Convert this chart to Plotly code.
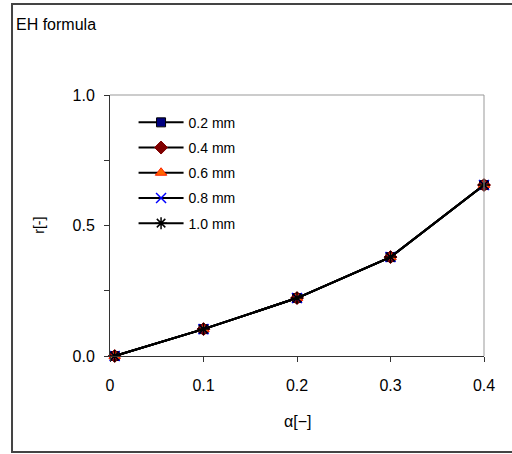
import plotly.graph_objects as go

# Void fraction alpha and resulting r for each pipe size (EH formula)
alpha = [0.005, 0.1, 0.2, 0.3, 0.4]
r_02mm = [0.0, 0.103, 0.222, 0.379, 0.655]
r_04mm = [0.0, 0.103, 0.222, 0.379, 0.655]
r_06mm = [0.0, 0.103, 0.222, 0.379, 0.655]
r_08mm = [0.0, 0.103, 0.222, 0.379, 0.655]
r_10mm = [0.0, 0.103, 0.222, 0.379, 0.655]

series_names = ["0.2 mm", "0.4 mm", "0.6 mm", "0.8 mm", "1.0 mm"]
series_values = [r_02mm, r_04mm, r_06mm, r_08mm, r_10mm]

marker_styles = [
    dict(symbol="square", color="#000080", size=9, line=dict(color="#000000", width=1)),
    dict(symbol="diamond", color="#800000", size=10, line=dict(color="#800000", width=1)),
    dict(symbol="triangle-up", color="#FF6600", size=10, line=dict(color="#FF2200", width=1)),
    dict(symbol="x-thin", color="#0000FF", size=10, line=dict(color="#0000FF", width=1.5)),
    dict(symbol="asterisk", color="#000000", size=10, line=dict(color="#000000", width=1.5)),
]

FONT = "Liberation Sans, Arial, sans-serif"

fig = go.Figure()
for i, (name, vals, mk) in enumerate(zip(series_names, series_values, marker_styles)):
    fig.add_trace(go.Scatter(
        x=alpha, y=vals, name=name, mode="lines+markers",
        line=dict(color="#000000", width=2),
        marker=mk, legendgroup=f"g{i}", cliponaxis=False,
    ))

fig.update_layout(
    width=512, height=454,
    margin=dict(l=110, r=28, t=95, b=98),
    paper_bgcolor="white", plot_bgcolor="white",
    font=dict(family=FONT, color="#000000"),
    showlegend=True,
    legend=dict(
        x=0.063, y=0.955, xanchor="left", yanchor="top",
        bgcolor="rgba(0,0,0,0)", font=dict(size=14, family=FONT),
        traceorder="grouped", tracegroupgap=4, itemwidth=45,
    ),
    xaxis=dict(
        range=[0, 0.4], tickvals=[0, 0.1, 0.2, 0.3, 0.4],
        ticktext=["0", "0.1", "0.2", "0.3", "0.4"],
        ticks="outside", ticklen=5, tickcolor="#333333",
        showline=True, linecolor="#333333", linewidth=1,
        showgrid=False, zeroline=False,
        tickfont=dict(size=16, family=FONT), ticklabelstandoff=10,
    ),
    yaxis=dict(
        range=[0, 1.0], tickvals=[0, 0.25, 0.5, 0.75, 1.0],
        ticktext=["0.0", "", "0.5", "", "1.0"],
        ticks="outside", ticklen=5, tickcolor="#333333",
        showline=True, linecolor="#333333", linewidth=1,
        showgrid=False, zeroline=False,
        tickfont=dict(size=16, family=FONT), ticklabelstandoff=6,
    ),
    shapes=[
        # grey top and right edges of the plotting area
        dict(type="line", xref="paper", yref="paper", x0=0, x1=1, y0=1, y1=1,
             line=dict(color="#999999", width=1)),
        dict(type="line", xref="paper", yref="paper", x0=1, x1=1, y0=0, y1=1,
             line=dict(color="#999999", width=1)),
        # outer chart frame
        dict(type="rect", xref="paper", yref="paper",
             x0=-0.262, x1=1.2, y0=-0.368, y1=1.349,
             line=dict(color="#444444", width=2), layer="below"),
    ],
    annotations=[
        dict(text="EH formula", xref="paper", yref="paper", x=-0.257, y=1.272,
             xanchor="left", yanchor="middle", showarrow=False,
             font=dict(size=16, family=FONT)),
        dict(text="α[−]", xref="paper", yref="paper", x=0.5, y=-0.25,
             xanchor="center", yanchor="middle", showarrow=False,
             font=dict(size=16, family=FONT)),
        dict(text="r[-]", xref="paper", yref="paper", x=-0.192, y=0.5,
             xanchor="center", yanchor="middle", showarrow=False, textangle=-90,
             font=dict(size=14, family=FONT)),
    ],
)

fig.write_html("out.html")
